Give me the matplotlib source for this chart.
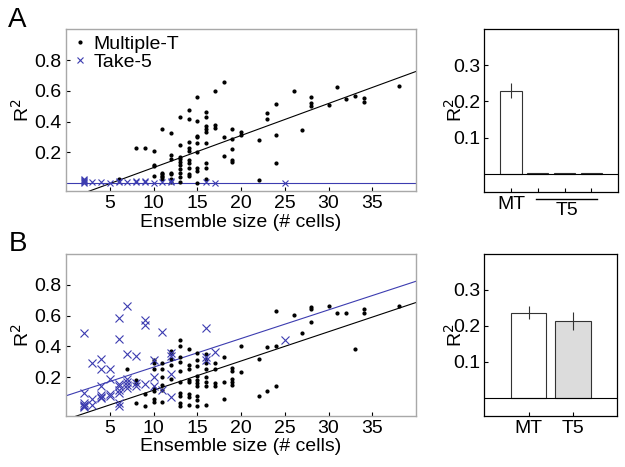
import matplotlib
matplotlib.use("Agg")
import matplotlib.pyplot as plt
import matplotlib.transforms as mtransforms
import numpy as np

plt.rcParams['font.family'] = ['Liberation Sans', 'DejaVu Sans']

# ---- panel A data (x = ensemble size, y = R^2) ----
a_mt_x = [6, 8, 9, 10, 10, 10, 10,
          11, 11, 11, 11, 11, 11,
          12, 12, 12, 12, 12, 12, 12,
          13, 13, 13, 13, 13, 13, 13, 13, 13, 13,
          14, 14, 14, 14, 14, 14, 14, 14, 14, 14,
          15, 15, 15, 15, 15, 15, 15, 15, 15,
          16, 16, 16, 16, 16, 16, 16, 16, 16,
          17, 17, 17, 18, 18, 18,
          19, 19, 19, 19, 19, 20, 20,
          22, 22, 23, 23, 24, 24, 24, 26, 27,
          28, 28, 28, 30, 31, 32, 33, 34, 34, 38]
a_mt_y = [0.03, 0.23, 0.23, 0.21, 0.11, 0.12, 0.05,
          0.35, 0.07, 0.06, 0.05, 0.04, 0.03,
          0.325, 0.185, 0.16, 0.07, 0.06, 0.03, 0.01,
          0.43, 0.25, 0.17, 0.16, 0.14, 0.12, 0.09, 0.07, 0.04, 0.01,
          0.475, 0.42, 0.27, 0.23, 0.21, 0.15, 0.13, 0.10, 0.06, 0.05,
          0.56, 0.405, 0.31, 0.30, 0.26, 0.20, 0.10, 0.08, 0.0,
          0.465, 0.43, 0.37, 0.35, 0.33, 0.26, 0.13, 0.10, 0.03,
          0.60, 0.38, 0.36, 0.66, 0.30, 0.175,
          0.35, 0.29, 0.22, 0.15, 0.14, 0.33, 0.315,
          0.28, 0.02, 0.455, 0.42, 0.513, 0.315, 0.13, 0.60, 0.345,
          0.56, 0.52, 0.50, 0.506, 0.627, 0.547, 0.567, 0.554, 0.53, 0.63]
a_t5_x = [2, 2, 2, 2, 2, 3, 4, 5, 6, 6, 7, 8, 8, 9, 9, 10, 11, 12, 12, 16, 17, 25]
a_t5_y = [0.03, 0.02, 0.015, 0.01, 0.005, 0.01, 0.01, 0.005, 0.01, 0.015, 0.01,
          0.01, 0.015, 0.01, 0.015, 0.005, 0.01, 0.01, 0.015, 0.01, 0.005, 0.0]
# fitted lines: (slope, intercept)
a_mt_fit = (0.0208, -0.106)
a_t5_fit = (0.0, 0.004)

# ---- panel B data ----
b_mt_x = [7, 8, 8, 8, 9, 9,
          10, 10, 10, 10, 10, 10, 10,
          11, 11, 11, 11, 11, 11,
          12, 12, 12, 12, 12,
          13, 13, 13, 13, 13, 13, 13, 13, 13, 13,
          14, 14, 14, 14, 14, 14, 14, 14,
          15, 15, 15, 15, 15, 15, 15, 15, 15, 15,
          16, 16, 16, 16, 16, 16, 16, 16,
          17, 17, 17, 17, 18, 18, 18,
          19, 19, 19, 19, 19, 20, 20,
          22, 22, 23, 23, 24, 24, 24, 26, 27,
          28, 28, 28, 30, 31, 32, 33, 34, 34, 38]
b_mt_y = [0.25, 0.18, 0.16, 0.03, 0.09, 0.01,
          0.31, 0.29, 0.25, 0.13, 0.11, 0.06, 0.04,
          0.29, 0.25, 0.20, 0.15, 0.12, 0.04,
          0.37, 0.36, 0.32, 0.28, 0.19,
          0.44, 0.40, 0.33, 0.30, 0.17, 0.10, 0.08, 0.03, 0.01, 0.24,
          0.38, 0.28, 0.25, 0.18, 0.17, 0.09, 0.07, 0.02,
          0.36, 0.31, 0.27, 0.21, 0.18, 0.16, 0.14, 0.075, 0.05, 0.01,
          0.35, 0.32, 0.29, 0.25, 0.20, 0.17, 0.14, 0.02,
          0.29, 0.25, 0.16, 0.14, 0.33, 0.17, 0.06,
          0.26, 0.24, 0.19, 0.17, 0.15, 0.405, 0.235,
          0.32, 0.08, 0.395, 0.11, 0.63, 0.40, 0.14, 0.605, 0.49,
          0.655, 0.64, 0.557, 0.665, 0.62, 0.615, 0.38, 0.64, 0.615, 0.66]
b_t5_x = [2, 2, 2, 2, 2, 2, 3, 3, 3,
          4, 4, 4, 4, 4, 4, 5, 5, 5, 5,
          6, 6, 6, 6, 6, 6, 6, 6,
          7, 7, 7, 7, 7, 7, 8, 8, 8,
          9, 9, 9, 10, 10, 10, 11, 11,
          12, 12, 12, 12, 16, 16, 16, 17, 25]
b_t5_y = [0.49, 0.10, 0.03, 0.02, 0.01, 0.005, 0.29, 0.06, 0.02,
          0.32, 0.25, 0.14, 0.085, 0.07, 0.065, 0.25, 0.19, 0.09, 0.08,
          0.585, 0.45, 0.155, 0.14, 0.12, 0.10, 0.03, 0.01,
          0.66, 0.35, 0.19, 0.17, 0.15, 0.13, 0.34, 0.16, 0.14,
          0.57, 0.54, 0.155, 0.31, 0.20, 0.14, 0.495, 0.12,
          0.355, 0.34, 0.22, 0.07, 0.52, 0.33, 0.31, 0.365, 0.44]
b_mt_fit = (0.019, -0.075)
b_t5_fit = (0.0186, 0.079)

# ---- bar panels: mean R^2 and error ----
a_bar_vals = [0.23, 0.002, 0.001, 0.001]
a_bar_err = [0.02, 0.0, 0.0, 0.0]
b_bar_vals = [0.237, 0.213]
b_bar_err = [0.018, 0.025]
b_bar_colors = ['white', '#dcdcdc']

BLUE = '#3c3cb0'
FS = 14

fig = plt.figure(figsize=(6.25, 4.67), dpi=100)


def scatter_panel(rect, mt_x, mt_y, t5_x, t5_y, mt_fit, t5_fit, xsize, legend):
    ax = fig.add_axes(rect)
    ax.plot(mt_x, mt_y, '.', color='black', ms=4, label='Multiple-T', zorder=3)
    ax.plot(t5_x, t5_y, 'x', color=BLUE, ms=xsize, mew=0.8, label='Take-5', zorder=3)
    xx = np.array([0, 40])
    ax.plot(xx, mt_fit[0] * xx + mt_fit[1], color='black', lw=0.8)
    ax.plot(xx, t5_fit[0] * xx + t5_fit[1], color=BLUE, lw=0.8)
    ax.set_xlim(0, 40)
    ax.set_ylim(-0.05, 1.0)
    ax.set_xticks([5, 10, 15, 20, 25, 30, 35])
    ax.set_yticks([0.2, 0.4, 0.6, 0.8])
    ax.set_yticklabels(['0.2', '0.4', '0.6', '0.8'])
    ax.tick_params(direction='in', labelsize=FS, length=3, pad=3)
    ax.set_xlabel('Ensemble size (# cells)', fontsize=FS, labelpad=1)
    ax.set_ylabel('R$^2$', fontsize=FS, labelpad=1)
    for s in ax.spines.values():
        s.set_color('#a8a8a8')
        s.set_linewidth(1.0)
    if legend:
        ax.legend(loc='upper left', frameon=False, fontsize=FS, handlelength=0.8,
                  handletextpad=0.3, labelspacing=0.05, borderaxespad=0.1,
                  borderpad=0.2)
    return ax


def bar_panel(rect, vals, errs, colors, xlim):
    ax = fig.add_axes(rect)
    pos = np.arange(1, len(vals) + 1)
    ax.bar(pos, vals, width=0.8, color=colors, edgecolor='#333333', lw=0.8)
    ax.errorbar(pos, vals, yerr=errs, fmt='none', ecolor='#333333', elinewidth=0.8)
    ax.axhline(0, color='black', lw=0.8)
    ax.set_xlim(*xlim)
    ax.set_ylim(-0.05, 0.4)
    ax.set_yticks([0.1, 0.2, 0.3])
    ax.set_yticklabels(['0.1', '0.2', '0.3'])
    ax.tick_params(direction='in', labelsize=FS, length=3, pad=3)
    ax.set_ylabel('R$^2$', fontsize=FS, labelpad=-9)
    for s in ax.spines.values():
        s.set_color('black')
        s.set_linewidth(0.9)
    return ax


scatter_panel([0.1056, 0.591, 0.56, 0.3464], a_mt_x, a_mt_y, a_t5_x, a_t5_y,
              a_mt_fit, a_t5_fit, 4.5, True)
scatter_panel([0.1056, 0.1099, 0.56, 0.3462], b_mt_x, b_mt_y, b_t5_x, b_t5_y,
              b_mt_fit, b_t5_fit, 6, False)

axa = bar_panel([0.7749, 0.5895, 0.2139, 0.3478], a_bar_vals, a_bar_err,
                ['white'] * 4, (0, 5))
axa.set_xticks([1, 2, 3, 4])
axa.set_xticklabels(['MT', '', '', ''])
trans = mtransforms.blended_transform_factory(axa.transData, axa.transAxes)
axa.plot([1.95, 4.2], [-0.045, -0.045], color='black', lw=1.0,
         transform=trans, clip_on=False)
axa.text(3.1, -0.065, 'T5', transform=trans, ha='center', va='top', fontsize=FS)

axb = bar_panel([0.7749, 0.1099, 0.2128, 0.3462], b_bar_vals, b_bar_err,
                b_bar_colors, (0, 3))
axb.set_xticks([1, 2])
axb.set_xticklabels(['MT', 'T5'])

fig.text(0.012, 0.985, 'A', fontsize=20, va='top', ha='left')
fig.text(0.014, 0.505, 'B', fontsize=20, va='top', ha='left')

fig.savefig('out.png', dpi=100)
